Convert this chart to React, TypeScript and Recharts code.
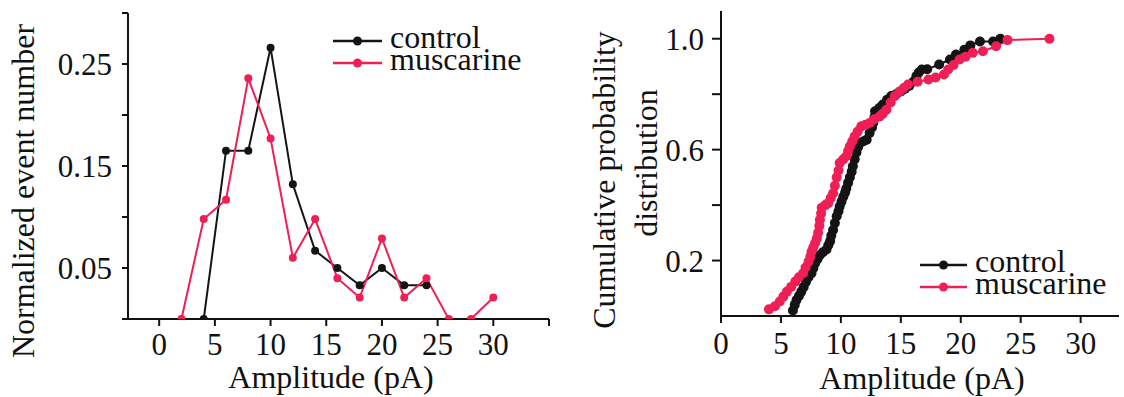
import React from 'react';
import { LineChart, Line, XAxis, YAxis, Legend } from 'recharts';

// ---------- data: left panel (amplitude histogram) ----------
const controlHistX = [4, 6, 8, 10, 12, 14, 16, 18, 20, 22, 24];
const controlHistY = [0, 0.165, 0.165, 0.266, 0.132, 0.067, 0.05, 0.033, 0.05, 0.033, 0.033];
const muscHistX = [2, 4, 6, 8, 10, 12, 14, 16, 18, 20, 22, 24, 26, 28, 30];
const muscHistY = [0, 0.098, 0.117, 0.236, 0.177, 0.06, 0.098, 0.04, 0.021, 0.079, 0.021, 0.04, 0, 0, 0.021];

// ---------- data: right panel (cumulative distribution) ----------
const controlCumX = [6.0, 6.15, 6.3, 6.5, 6.7, 6.9, 7.1, 7.3, 7.55, 7.7, 7.85, 8.05, 8.25, 8.5, 8.8, 8.95, 9.1, 9.2, 9.35, 9.5, 9.65, 9.8, 9.9, 10.05, 10.2, 10.35, 10.45, 10.6, 10.75, 10.9, 11.0, 11.15, 11.3, 11.45, 11.6, 11.9, 12.15, 12.4, 12.6, 12.7, 12.8, 12.85, 13.2, 13.5, 13.85, 14.2, 14.6, 15.0, 15.35, 15.7, 16.05, 16.3, 16.5, 16.75, 17.2, 18.2, 19.1, 19.6, 20.3, 20.8, 21.6, 22.7, 23.3];
const controlCumY = [0.02, 0.04, 0.058, 0.072, 0.088, 0.105, 0.124, 0.14, 0.154, 0.172, 0.19, 0.205, 0.22, 0.23, 0.24, 0.255, 0.27, 0.29, 0.31, 0.335, 0.36, 0.378, 0.395, 0.412, 0.43, 0.445, 0.46, 0.48, 0.5, 0.52, 0.54, 0.565, 0.59, 0.61, 0.625, 0.63, 0.636, 0.66, 0.68, 0.696, 0.718, 0.738, 0.75, 0.763, 0.78, 0.793, 0.8, 0.81, 0.82, 0.83, 0.845, 0.865, 0.878, 0.889, 0.89, 0.907, 0.925, 0.943, 0.96, 0.976, 0.99, 0.99, 1.0];
const muscCumX = [4.0, 4.5, 4.9, 5.2, 5.5, 5.85, 6.2, 6.5, 6.85, 7.05, 7.3, 7.45, 7.55, 7.7, 7.85, 8.0, 8.1, 8.2, 8.25, 8.35, 8.4, 8.7, 8.95, 9.15, 9.35, 9.5, 9.65, 9.8, 9.9, 10.2, 10.45, 10.6, 10.75, 10.95, 11.15, 11.4, 11.7, 12.05, 12.4, 12.8, 13.25, 13.5, 13.8, 14.15, 14.5, 14.9, 15.25, 15.6, 16.4, 17.3, 17.9, 18.6, 18.95, 19.4, 19.9, 20.4, 21.0, 21.85, 22.95, 23.9, 27.4];
const muscCumY = [0.024, 0.035, 0.052, 0.07, 0.088, 0.105, 0.124, 0.14, 0.154, 0.175, 0.196, 0.214, 0.232, 0.248, 0.263, 0.28, 0.3, 0.325, 0.347, 0.37, 0.39, 0.4, 0.407, 0.425, 0.443, 0.47, 0.5, 0.525, 0.552, 0.565, 0.576, 0.595, 0.612, 0.63, 0.648, 0.665, 0.684, 0.69, 0.696, 0.71, 0.72, 0.73, 0.744, 0.77, 0.793, 0.81, 0.822, 0.835, 0.845, 0.853, 0.86, 0.871, 0.889, 0.905, 0.925, 0.935, 0.949, 0.955, 0.973, 0.995, 1.0];

// ---------- axes ----------
const leftXTicks = [0, 5, 10, 15, 20, 25, 30, 35];
const leftXLabels = ['0', '5', '10', '15', '20', '25', '30', ''];
const leftYTicks = [0, 0.05, 0.1, 0.15, 0.2, 0.25, 0.3];
const leftYLabels = ['', '0.05', '', '0.15', '', '0.25', ''];
const rightXTicks = [0, 5, 10, 15, 20, 25, 30];
const rightXLabels = ['0', '5', '10', '15', '20', '25', '30'];
const rightYTicks = [0.2, 0.4, 0.6, 0.8, 1.0];
const rightYLabels = ['0.2', '', '0.6', '', '1.0'];

const seriesNames = ['control', 'muscarine'];
const xTitle = 'Amplitude (pA)';
const leftYTitle = 'Normalized event number';
const rightYTitle1 = 'Cumulative probability';
const rightYTitle2 = 'distribution';

const BLACK = '#141414';
const PINK = '#ef1f56';
const COLORS = [BLACK, PINK];
const FONT = '"Liberation Serif", "Times New Roman", Times, serif';
const FS = 31;
const FT = 32;

const zip = (xs: number[], ys: number[]) => xs.map((x, i) => ({ x, y: ys[i] }));
const controlHist = zip(controlHistX, controlHistY);
const muscHist = zip(muscHistX, muscHistY);
const controlCum = zip(controlCumX, controlCumY);
const muscCum = zip(muscCumX, muscCumY);

const tickStyle = { fill: '#111', fontSize: FS, fontFamily: FONT };
const axisStroke = { stroke: '#111', strokeWidth: 2 };

const makeLegend = (lineX1: number, lineX2: number, textX: number, y0: number, gap: number, w: number, h: number) => () => (
  <svg width={w} height={h} style={{ overflow: 'visible', display: 'block' }}>
    {seriesNames.map((name, i) => (
      <g key={name}>
        <line x1={lineX1} x2={lineX2} y1={y0 + i * gap} y2={y0 + i * gap} stroke={COLORS[i]} strokeWidth={2.5} />
        <circle cx={(lineX1 + lineX2) / 2} cy={y0 + i * gap} r={4.5} fill={COLORS[i]} />
        <text x={textX} y={y0 + i * gap + 7} fontSize={FT} fontFamily={FONT} fill="#111">{name}</text>
      </g>
    ))}
  </svg>
);

export default function App() {
  return (
    <div style={{ position: 'absolute', left: 0, top: 0, width: 1124, height: 397, background: '#fff', fontFamily: FONT }}>
      {/* Left panel */}
      <div style={{ position: 'absolute', left: 0, top: 0 }}>
        <LineChart width={560} height={397} margin={{ top: 13, right: 11, bottom: 0, left: 0 }}>
          <XAxis
            type="number"
            dataKey="x"
            domain={[-2.8, 35]}
            ticks={leftXTicks}
            tickFormatter={(_v: number, i: number) => leftXLabels[i]}
            height={78}
            tickSize={7}
            tickMargin={7}
            tick={tickStyle}
            axisLine={axisStroke}
            tickLine={axisStroke}
            allowDataOverflow
            label={{
              content: () => (
                <text x={331} y={388} textAnchor="middle" fontSize={FT} fontFamily={FONT} fill="#111">{xTitle}</text>
              ),
            }}
          />
          <XAxis xAxisId="top" orientation="top" type="number" domain={[0, 1]} height={0} tick={false} tickLine={false} axisLine={axisStroke} />
          <YAxis
            type="number"
            domain={[0, 0.3]}
            ticks={leftYTicks}
            tickFormatter={(_v: number, i: number) => leftYLabels[i]}
            width={128}
            tickSize={6}
            tickMargin={10}
            tick={tickStyle}
            axisLine={axisStroke}
            tickLine={axisStroke}
            allowDataOverflow
            label={{
              content: () => (
                <text transform="translate(34,191) rotate(-90)" textAnchor="middle" fontSize={FT} fontFamily={FONT} fill="#111">{leftYTitle}</text>
              ),
            }}
          />
          <YAxis yAxisId="right" orientation="right" type="number" domain={[0, 1]} width={0} tick={false} tickLine={false} axisLine={axisStroke} />
          <Legend
            layout="vertical"
            align="center"
            verticalAlign="middle"
            wrapperStyle={{ left: 330, top: 25, width: 220, height: 50 }}
            content={makeLegend(3, 52, 60, 16, 22, 220, 50)}
          />
          <Line
            name={seriesNames[0]}
            data={controlHist}
            dataKey="y"
            type="linear"
            stroke={BLACK}
            strokeWidth={2}
            dot={{ r: 4, fill: BLACK, stroke: BLACK, strokeWidth: 0 }}
            activeDot={false}
            isAnimationActive={false}
          />
          <Line
            name={seriesNames[1]}
            data={muscHist}
            dataKey="y"
            type="linear"
            stroke={PINK}
            strokeWidth={2}
            dot={{ r: 4, fill: PINK, stroke: PINK, strokeWidth: 0 }}
            activeDot={false}
            isAnimationActive={false}
          />
        </LineChart>
      </div>

      {/* Right panel */}
      <div style={{ position: 'absolute', left: 560, top: 0 }}>
        <LineChart width={564} height={397} margin={{ top: 11, right: 5, bottom: 0, left: 0 }}>
          <XAxis
            type="number"
            dataKey="x"
            domain={[0, 33.2]}
            ticks={rightXTicks}
            tickFormatter={(_v: number, i: number) => rightXLabels[i]}
            height={81}
            tickSize={7}
            tickMargin={9}
            tick={tickStyle}
            axisLine={axisStroke}
            tickLine={axisStroke}
            allowDataOverflow
            label={{
              content: () => (
                <text x={362} y={389} textAnchor="middle" fontSize={FT} fontFamily={FONT} fill="#111">{xTitle}</text>
              ),
            }}
          />
          <XAxis xAxisId="top" orientation="top" type="number" domain={[0, 1]} height={0} tick={false} tickLine={false} axisLine={axisStroke} />
          <YAxis
            type="number"
            domain={[0, 1.1]}
            ticks={rightYTicks}
            tickFormatter={(_v: number, i: number) => rightYLabels[i]}
            width={161}
            tickSize={9}
            tickMargin={8}
            tick={tickStyle}
            axisLine={axisStroke}
            tickLine={axisStroke}
            allowDataOverflow
            label={{
              content: () => (
                <g>
                  <text transform="translate(55,180) rotate(-90)" textAnchor="middle" fontSize={FT} fontFamily={FONT} fill="#111">{rightYTitle1}</text>
                  <text transform="translate(97,163) rotate(-90)" textAnchor="middle" fontSize={FT} fontFamily={FONT} fill="#111">{rightYTitle2}</text>
                </g>
              ),
            }}
          />
          <YAxis yAxisId="right" orientation="right" type="number" domain={[0, 1]} width={0} tick={false} tickLine={false} axisLine={axisStroke} />
          <Legend
            layout="vertical"
            align="center"
            verticalAlign="middle"
            wrapperStyle={{ left: 357, top: 250, width: 200, height: 50 }}
            content={makeLegend(3, 50, 58, 15, 22, 200, 50)}
          />
          <Line
            name={seriesNames[0]}
            data={controlCum}
            dataKey="y"
            type="linear"
            stroke={BLACK}
            strokeWidth={2}
            dot={{ r: 5, fill: BLACK, stroke: BLACK, strokeWidth: 0 }}
            activeDot={false}
            isAnimationActive={false}
          />
          <Line
            name={seriesNames[1]}
            data={muscCum}
            dataKey="y"
            type="linear"
            stroke={PINK}
            strokeWidth={2}
            dot={{ r: 5, fill: PINK, stroke: PINK, strokeWidth: 0 }}
            activeDot={false}
            isAnimationActive={false}
          />
        </LineChart>
      </div>
    </div>
  );
}
